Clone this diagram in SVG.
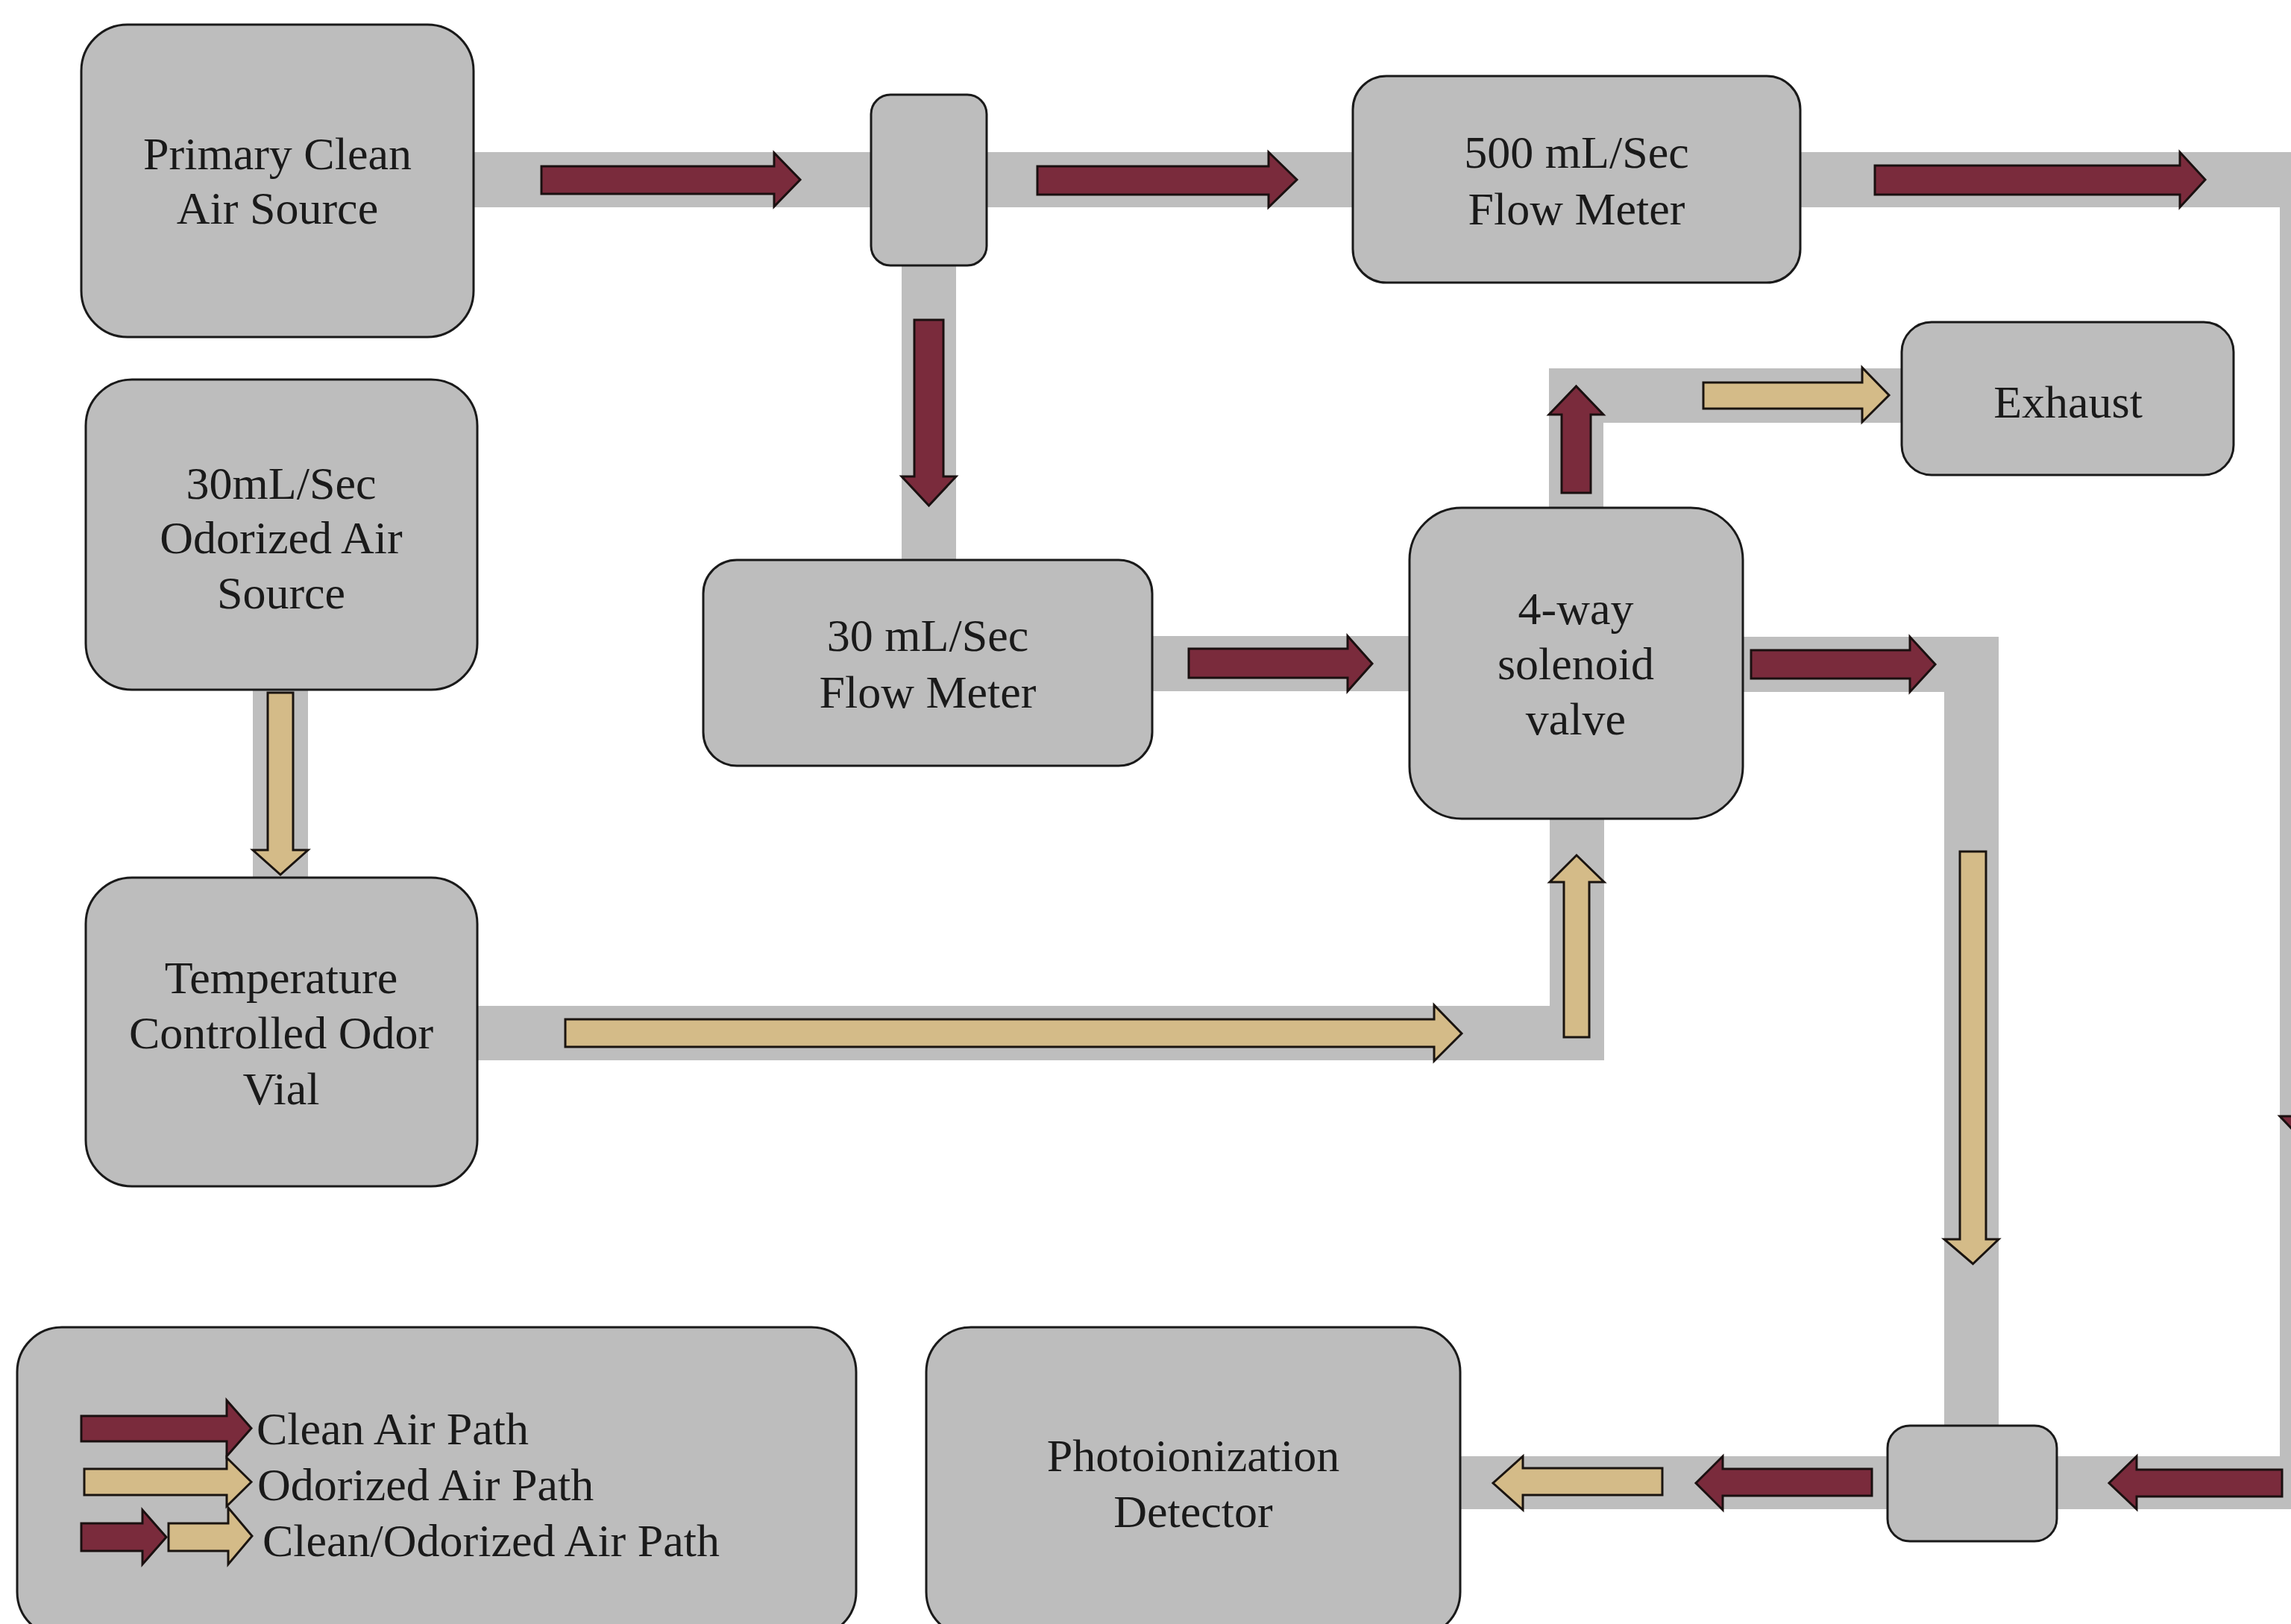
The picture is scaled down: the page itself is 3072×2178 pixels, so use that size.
<svg xmlns="http://www.w3.org/2000/svg" width="3072" height="2178" viewBox="0 0 3072 2178">
<style>
.pipe{fill:#bebebe;stroke:none}
.box{fill:#bdbdbd;stroke:#1a1a1a;stroke-width:3}
.clean{fill:#7a2b3c;stroke:#1a1010;stroke-width:3;stroke-linejoin:miter}
.odor{fill:#d4bb88;stroke:#1a1410;stroke-width:3;stroke-linejoin:miter}
.lbl{font-family:"Liberation Serif","Times New Roman",serif;font-size:62px;fill:#1a1a1a;text-anchor:middle}
.leg{font-family:"Liberation Serif","Times New Roman",serif;font-size:62px;fill:#1a1a1a;text-anchor:start}
</style>
<rect width="3072" height="2178" fill="#ffffff"/>
<g id="pipes">
<rect class="pipe" x="620" y="204" width="2520" height="74"/>
<rect class="pipe" x="3057" y="204" width="83" height="1820"/>
<rect class="pipe" x="1209" y="270" width="73" height="485"/>
<rect class="pipe" x="1540" y="853" width="355" height="74"/>
<rect class="pipe" x="2077" y="494" width="73" height="190"/>
<rect class="pipe" x="2077" y="494" width="478" height="73"/>
<rect class="pipe" x="2330" y="854" width="350" height="74"/>
<rect class="pipe" x="2607" y="854" width="73" height="1062"/>
<rect class="pipe" x="1950" y="1953" width="1190" height="71"/>
<rect class="pipe" x="339" y="920" width="74" height="260"/>
<rect class="pipe" x="635" y="1349" width="1516" height="73"/>
<rect class="pipe" x="2078" y="1094" width="73" height="328"/>
</g>
<g id="node-primary">
<rect class="box" x="109" y="33" width="526" height="419" rx="62"/>
<text class="lbl" x="372" y="227">Primary Clean</text>
<text class="lbl" x="372" y="300">Air Source</text>
</g>
<g id="node-junction1">
<rect class="box" x="1168" y="127" width="155" height="229" rx="26"/>
</g>
<g id="node-flow500">
<rect class="box" x="1814" y="102" width="600" height="277" rx="45"/>
<text class="lbl" x="2114" y="225">500 mL/Sec</text>
<text class="lbl" x="2114" y="301">Flow Meter</text>
</g>
<g id="node-odor-source">
<rect class="box" x="115" y="509" width="525" height="416" rx="62"/>
<text class="lbl" x="377" y="669">30mL/Sec</text>
<text class="lbl" x="377" y="742">Odorized Air</text>
<text class="lbl" x="377" y="816">Source</text>
</g>
<g id="node-flow30">
<rect class="box" x="943" y="751" width="602" height="276" rx="45"/>
<text class="lbl" x="1244" y="873">30 mL/Sec</text>
<text class="lbl" x="1244" y="949">Flow Meter</text>
</g>
<g id="node-exhaust">
<rect class="box" x="2550" y="432" width="445" height="205" rx="40"/>
<text class="lbl" x="2773" y="560">Exhaust</text>
</g>
<g id="node-solenoid">
<rect class="box" x="1890" y="681" width="447" height="417" rx="70"/>
<text class="lbl" x="2113" y="837">4-way</text>
<text class="lbl" x="2113" y="911">solenoid</text>
<text class="lbl" x="2113" y="985">valve</text>
</g>
<g id="node-vial">
<rect class="box" x="115" y="1177" width="525" height="414" rx="62"/>
<text class="lbl" x="377" y="1332">Temperature</text>
<text class="lbl" x="377" y="1406">Controlled Odor</text>
<text class="lbl" x="377" y="1481">Vial</text>
</g>
<g id="node-junction2">
<rect class="box" x="2531" y="1912" width="227" height="155" rx="30"/>
</g>
<g id="node-pid">
<rect class="box" x="1242" y="1780" width="716" height="415" rx="60"/>
<text class="lbl" x="1600" y="1973">Photoionization</text>
<text class="lbl" x="1600" y="2048">Detector</text>
</g>
<g id="legend">
<rect class="box" x="23" y="1780" width="1125" height="415" rx="60"/>
<polygon class="clean" points="109,1899 304,1899 304,1878 337,1915.5 304,1953 304,1933 109,1933"/>
<polygon class="odor" points="113,1970 304,1970 304,1955 337,1987.5 304,2020 304,2005 113,2005"/>
<polygon class="clean" points="109,2043 191,2043 191,2025 223,2061.5 191,2098 191,2080 109,2080"/>
<polygon class="odor" points="226,2043 306,2043 306,2022 338,2060 306,2098 306,2080 226,2080"/>
<text class="leg" x="344" y="1937">Clean Air Path</text>
<text class="leg" x="345" y="2012">Odorized Air Path</text>
<text class="leg" x="352" y="2087">Clean/Odorized Air Path</text>
</g>
<g id="connectors">
<polygon class="clean" points="726,223 1038,223 1038,205 1073,241 1038,277 1038,260 726,260"/>
<polygon class="clean" points="1391,223 1701,223 1701,204 1739,241 1701,278 1701,261 1391,261"/>
<polygon class="clean" points="2514,222 2923,222 2923,204 2957,241 2923,278 2923,261 2514,261"/>
<polygon class="clean" points="1226,429 1265,429 1265,639 1282,639 1245.5,678 1209,639 1226,639"/>
<polygon class="clean" points="1594,870 1807,870 1807,853 1840,890 1807,927 1807,909 1594,909"/>
<polygon class="clean" points="2094,661 2094,556 2077,556 2113.5,518 2150,556 2133,556 2133,661"/>
<polygon class="odor" points="2284,513 2497,513 2497,493 2533,530 2497,566 2497,548 2284,548"/>
<polygon class="clean" points="2348,872 2561,872 2561,854 2595,891 2561,928 2561,910 2348,910"/>
<polygon class="odor" points="2628,1142 2663,1142 2663,1662 2680,1662 2645.5,1695 2607,1662 2628,1662"/>
<polygon class="clean" points="3078,1300 3113,1300 3113,1497 3133,1497 3095,1537 3057,1497 3078,1497"/>
<polygon class="clean" points="3060,1971 2865,1971 2865,1953 2828,1989 2865,2024 2865,2007 3060,2007"/>
<polygon class="clean" points="2510,1970 2310,1970 2310,1953 2274,1989 2310,2025 2310,2006 2510,2006"/>
<polygon class="odor" points="2229,1969 2042,1969 2042,1953 2002,1989 2042,2025 2042,2005 2229,2005"/>
<polygon class="odor" points="359,929 393,929 393,1140 413,1140 376,1173 339,1140 359,1140"/>
<polygon class="odor" points="758,1367 1923,1367 1923,1348 1960,1386 1923,1423 1923,1404 758,1404"/>
<polygon class="odor" points="2097,1391 2097,1183 2078,1183 2114,1147 2151,1183 2131,1183 2131,1391"/>
</g>
</svg>
